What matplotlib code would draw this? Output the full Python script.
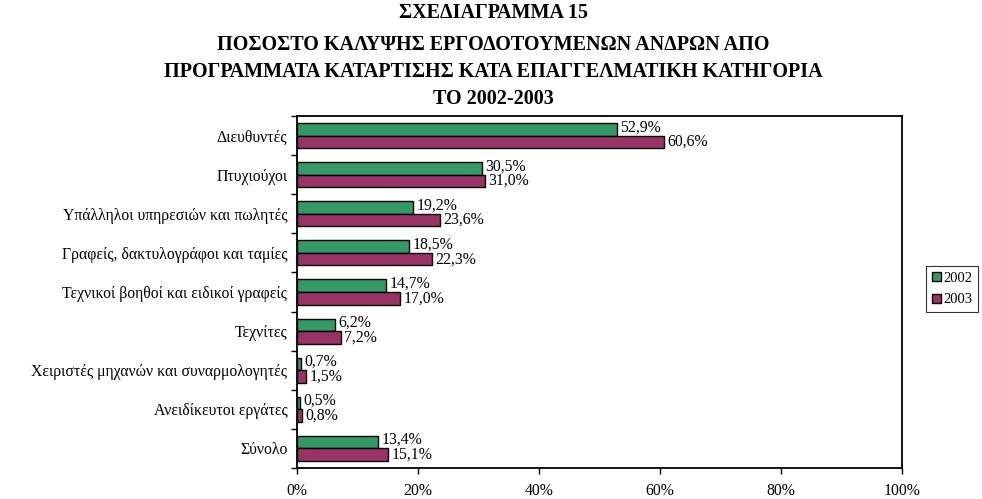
import matplotlib
matplotlib.use("Agg")
import matplotlib.pyplot as plt
import numpy as np
from matplotlib.ticker import FuncFormatter, FixedLocator

plt.rcParams['font.family'] = ['Liberation Serif', 'DejaVu Serif']

categories = [
    "Διευθυντές",
    "Πτυχιούχοι",
    "Υπάλληλοι υπηρεσιών και πωλητές",
    "Γραφείς, δακτυλογράφοι και ταμίες",
    "Τεχνικοί βοηθοί και ειδικοί γραφείς",
    "Τεχνίτες",
    "Χειριστές μηχανών και συναρμολογητές",
    "Ανειδίκευτοι εργάτες",
    "Σύνολο",
]
values_2002 = [52.9, 30.5, 19.2, 18.5, 14.7, 6.2, 0.7, 0.5, 13.4]
values_2003 = [60.6, 31.0, 23.6, 22.3, 17.0, 7.2, 1.5, 0.8, 15.1]
series_names = ["2002", "2003"]
colors = ["#339966", "#993366"]

title_lines = [
    "ΣΧΕΔΙΑΓΡΑΜΜΑ 15",
    "ΠΟΣΟΣΤΟ ΚΑΛΥΨΗΣ ΕΡΓΟΔΟΤΟΥΜΕΝΩΝ ΑΝΔΡΩΝ ΑΠΟ",
    "ΠΡΟΓΡΑΜΜΑΤΑ ΚΑΤΑΡΤΙΣΗΣ ΚΑΤΑ ΕΠΑΓΓΕΛΜΑΤΙΚΗ ΚΑΤΗΓΟΡΙΑ",
    "ΤΟ 2002-2003",
]

FS = 11.3

fig = plt.figure(figsize=(9.82, 4.99), dpi=100)
ax = fig.add_axes([297/982, 1-468/499, (902-297)/982, (468-116)/499])

y = np.arange(len(categories))
h = 0.32
v02 = np.array(values_2002) / 100
v03 = np.array(values_2003) / 100
ax.barh(y - h/2, v02, height=h, color=colors[0], edgecolor='black', linewidth=1.0, label=series_names[0])
ax.barh(y + h/2, v03, height=h, color=colors[1], edgecolor='black', linewidth=1.0, label=series_names[1])

for vals, off in ((values_2002, -h/2), (values_2003, h/2)):
    for i, v in enumerate(vals):
        ax.annotate(f"{v:.1f}%".replace('.', ','), (v/100, i + off),
                    xytext=(2.5, 1.5 if off < 0 else 0), textcoords='offset points',
                    ha='left', va='center', fontsize=FS)

ax.set_xlim(0, 1)
ax.set_ylim(len(categories) - 0.5, -0.5)
ax.xaxis.set_major_locator(FixedLocator([0, 0.2, 0.4, 0.6, 0.8, 1.0]))
ax.xaxis.set_major_formatter(FuncFormatter(lambda x, p: f"{x*100:.0f}%"))
ax.tick_params(axis='x', direction='out', length=4, width=1, pad=7, labelsize=FS)

ax.set_yticks(y)
ax.set_yticklabels(categories, fontsize=FS)
ax.set_yticks(np.arange(-0.5, len(categories), 1.0), minor=True)
ax.tick_params(axis='y', which='major', length=0, pad=7)
ax.tick_params(axis='y', which='minor', direction='out', length=4, width=1)

for s in ax.spines.values():
    s.set_linewidth(1.3)
    s.set_color('black')

leg = ax.legend(loc='center left', bbox_to_anchor=(926/982, 1 - 289/499), bbox_transform=fig.transFigure,
                frameon=True, fancybox=False, edgecolor='black', fontsize=10.5,
                handlelength=0.6, handleheight=0.6, handletextpad=0.2, borderpad=0.4,
                labelspacing=0.6, borderaxespad=0)
leg.get_frame().set_linewidth(0.8)

ys = [13, 45, 72, 99]
for t, yy in zip(title_lines, ys):
    fig.text(493/982, 1 - yy/499, t, ha='center', va='center', fontsize=14.5, fontweight='bold')

fig.savefig("out.png", dpi=100)
